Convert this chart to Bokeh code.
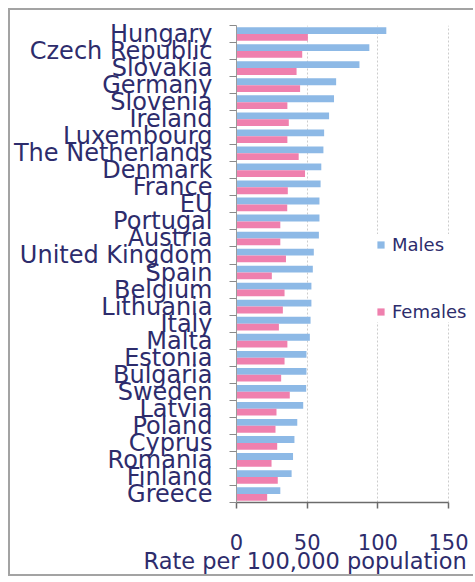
from bokeh.plotting import figure
from bokeh.models import FixedTicker, Legend, LegendItem, Title, ColumnDataSource
from bokeh.embed import file_html
from bokeh.resources import INLINE

countries = ["Hungary", "Czech Republic", "Slovakia", "Germany", "Slovenia", "Ireland",
             "Luxembourg", "The Netherlands", "Denmark", "France", "EU", "Portugal",
             "Austria", "United Kingdom", "Spain", "Belgium", "Lithuania", "Italy",
             "Malta", "Estonia", "Bulgaria", "Sweden", "Latvia", "Poland", "Cyprus",
             "Romania", "Finland", "Greece"]
males = [106, 94, 87, 70.5, 69, 65.5, 62, 61.5, 60, 59.5, 58.7, 58.7, 58.3, 54.7,
         54, 53, 53, 52.4, 51.9, 49.5, 49.5, 49.3, 47.2, 43, 41, 40, 39, 31]
females = [50.5, 46.5, 42.5, 45, 36, 37, 36, 44, 48.5, 36.3, 35.9, 31, 31, 35,
           25, 34, 32.8, 30, 36, 34, 31.6, 37.7, 28.3, 27.6, 28.8, 24.8, 29.2, 21.7]
x_ticks = [0, 50, 100, 150]
axis_title = "Rate per 100,000 population"

NAVY = "#2D2C6C"
BLUE = "#8DB9E6"
PINK = "#EF80AE"
FONT = "DejaVu Sans"
BORDER = "2px solid #a3a3a3"

n = len(countries)
pos = [n - 1 - i for i in range(n)]
src = ColumnDataSource(dict(
    y_m=[v + 0.2 for v in pos],
    y_f=[v - 0.2 for v in pos],
    males=males,
    females=females,
))

W, H = 465, 568
LEFT, TOP, BOTTOM, RIGHT = 226, 15, 76, 0
axis_px = 212                       # pixels spanned by 0..150 on the x axis
frame_px = W - LEFT - RIGHT         # frame runs to the right edge (room for legend)
x_end = x_ticks[-1] * frame_px / axis_px

p = figure(width=W, height=H, x_range=(0, x_end), y_range=(-0.5, n - 0.5),
           output_backend="svg", toolbar_location=None,
           min_border_left=LEFT, min_border_right=RIGHT, min_border_top=TOP,
           min_border_bottom=BOTTOM)
p.styles = {"border-left": BORDER, "border-top": BORDER, "border-bottom": BORDER,
            "margin-left": "8px", "margin-top": "8px", "vertical-align": "top"}
p.outline_line_color = None
p.background_fill_color = "white"
p.border_fill_color = "white"

rm = p.hbar(y="y_m", right="males", left=0, height=0.4, source=src,
            fill_color=BLUE, line_color=None)
rf = p.hbar(y="y_f", right="females", left=0, height=0.4, source=src,
            fill_color=PINK, line_color=None)

# grid
p.ygrid.visible = False
p.xgrid.ticker = FixedTicker(ticks=x_ticks[1:])
p.xgrid.grid_line_color = "#cccccc"
p.xgrid.grid_line_dash = "2 2"
p.xgrid.grid_line_width = 1

# x axis
p.xaxis.ticker = FixedTicker(ticks=x_ticks)
p.xaxis.bounds = (x_ticks[0], x_ticks[-1])
p.xaxis.axis_line_color = "#6b6b6b"
p.xaxis.axis_line_width = 1.5
p.xaxis.major_tick_line_color = "#6b6b6b"
p.xaxis.major_tick_line_width = 1.5
p.xaxis.major_tick_out = 6
p.xaxis.major_tick_in = 0
p.xaxis.minor_tick_line_color = None
p.xaxis.major_label_standoff = 25
p.xaxis.major_label_text_font = FONT
p.xaxis.major_label_text_font_size = "21px"
p.xaxis.major_label_text_color = NAVY

# y axis
p.yaxis.ticker = FixedTicker(ticks=pos, minor_ticks=[k - 0.5 for k in range(n + 1)])
p.yaxis.major_label_overrides = {pos[i]: countries[i] for i in range(n)}
p.yaxis.axis_line_color = "#9a9a9a"
p.yaxis.major_tick_line_color = None
p.yaxis.major_tick_out = 0
p.yaxis.major_tick_in = 0
p.yaxis.minor_tick_line_color = "#8a8a8a"
p.yaxis.minor_tick_out = 7
p.yaxis.minor_tick_in = 0
p.yaxis.major_label_standoff = 17
p.yaxis.major_label_text_font = FONT
p.yaxis.major_label_text_font_size = "24px"
p.yaxis.major_label_text_color = NAVY

legend = Legend(items=[LegendItem(label="Males", renderers=[rm]),
                       LegendItem(label="Females", renderers=[rf])],
                location=(140, 180))
legend.label_text_font = FONT
legend.label_text_font_size = "18px"
legend.label_text_color = NAVY
legend.glyph_width = 9
legend.glyph_height = 9
legend.label_standoff = 7
legend.spacing = 46
legend.padding = 23
legend.margin = 0
legend.border_line_color = None
legend.background_fill_color = "white"
legend.background_fill_alpha = 1
p.add_layout(legend)

title = Title(text=axis_title, align="left", offset=-93, standoff=-13,
              text_font=FONT, text_font_size="22.5px", text_font_style="normal",
              text_color=NAVY)
p.add_layout(title, "below")

open("out.html", "w").write(file_html(p, INLINE))
